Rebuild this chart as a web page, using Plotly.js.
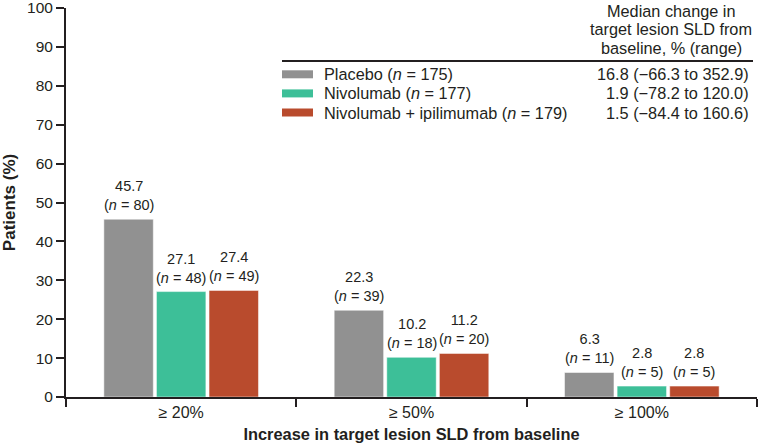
<!DOCTYPE html>
<html>
<head>
<meta charset="utf-8">
<script src="https://cdn.plot.ly/plotly-3.0.1.min.js"></script>
<style>
html,body{margin:0;padding:0;background:#fff;}
#chart{width:760px;height:448px;}
</style>
</head>
<body>
<div id="chart"></div>
<script>
var categories = ['\u2265 20%', '\u2265 50%', '\u2265 100%'];
var seriesNames = ['Placebo', 'Nivolumab', 'Nivolumab + ipilimumab'];
var seriesN = [175, 177, 179];
var seriesMedian = ['16.8 (\u221266.3 to 352.9)', '1.9 (\u221278.2 to 120.0)', '1.5 (\u221284.4 to 160.6)'];
var placeboPct = [45.7, 22.3, 6.3];
var placeboN = [80, 39, 11];
var nivoPct = [27.1, 10.2, 2.8];
var nivoN = [48, 18, 5];
var comboPct = [27.4, 11.2, 2.8];
var comboN = [49, 20, 5];
var colors = ['#919191', '#3dbf98', '#b94b2d'];
var headerLines = ['Median change in', 'target lesion SLD from', 'baseline, % (range)'];

var FONT = '"Liberation Sans", Arial, sans-serif';
var TXT = '#231f20';

var W = 760, H = 448;
var M = {l: 66, r: 3, t: 8, b: 51};
var BARGAP = 0.315, GROUPGAP = 0.06;
var plotW = W - M.l - M.r, plotH = H - M.t - M.b;
var slot = (plotW / categories.length) * (1 - BARGAP) / 3;

var pcts = [placeboPct, nivoPct, comboPct];
var ns = [placeboN, nivoN, comboN];

var traces = pcts.map(function (vals, k) {
  return {
    type: 'bar',
    name: seriesNames[k],
    x: categories,
    y: vals,
    marker: {color: colors[k], line: {color: '#ffffff', width: 0.5}},
    hoverinfo: 'none',
    showlegend: false
  };
});

var shapes = [];
var annotations = [];

// bar value labels, anchored on the data values
pcts.forEach(function (vals, k) {
  vals.forEach(function (v, i) {
    annotations.push({
      xref: 'x', yref: 'y', x: categories[i], y: v,
      xanchor: 'center', yanchor: 'bottom', showarrow: false,
      xshift: (k - 1) * slot, yshift: 4,
      text: v.toFixed(1) + '<br>(<i>n</i> = ' + ns[k][i] + ')',
      font: {family: FONT, size: 14.5, color: TXT}
    });
  });
});

// custom legend table
function py(p) { return (H - M.b - p) / plotH; }
function px(p) { return (p - M.l) / plotW; }

headerLines.forEach(function (t, i) {
  annotations.push({
    xref: 'paper', yref: 'paper', x: px(671), y: py(11 + i * 18.3),
    xanchor: 'center', yanchor: 'middle', showarrow: false,
    text: t, font: {family: FONT, size: 16.3, color: TXT}
  });
});
shapes.push({
  type: 'line', xref: 'paper', yref: 'paper',
  x0: px(282), x1: px(753), y0: py(61), y1: py(61),
  line: {color: TXT, width: 2}
});
seriesNames.forEach(function (name, i) {
  var yc = 74.3 + i * 19.1;
  shapes.push({
    type: 'rect', xref: 'paper', yref: 'paper',
    x0: px(282), x1: px(313), y0: py(yc + 4), y1: py(yc - 4),
    fillcolor: colors[i], line: {width: 0}
  });
  annotations.push({
    xref: 'paper', yref: 'paper', x: px(322), y: py(yc),
    xanchor: 'left', yanchor: 'middle', showarrow: false,
    text: name + ' (<i>n</i> = ' + seriesN[i] + ')',
    font: {family: FONT, size: 16.3, color: TXT}
  });
  annotations.push({
    xref: 'paper', yref: 'paper', x: px(751), y: py(yc),
    xanchor: 'right', yanchor: 'middle', showarrow: false,
    text: seriesMedian[i],
    font: {family: FONT, size: 16.3, color: TXT}
  });
});

var layout = {
  width: W, height: H,
  margin: M,
  paper_bgcolor: '#ffffff', plot_bgcolor: '#ffffff',
  font: {family: FONT, color: TXT},
  barmode: 'group',
  bargap: BARGAP,
  bargroupgap: GROUPGAP,
  xaxis: {
    type: 'category',
    tickson: 'boundaries',
    ticks: 'outside', ticklen: 8, tickwidth: 2, tickcolor: TXT,
    showline: true, linecolor: TXT, linewidth: 2,
    showgrid: false, zeroline: false,
    tickfont: {family: FONT, size: 16, color: TXT},
    title: {text: '<b>Increase in target lesion SLD from baseline</b>',
            font: {family: FONT, size: 16.4, color: TXT}, standoff: 8}
  },
  yaxis: {
    range: [0, 100], tickmode: 'linear', dtick: 10, tick0: 0,
    ticklabeloverflow: 'allow',
    ticks: 'outside', ticklen: 8, tickwidth: 2, tickcolor: TXT,
    showline: true, linecolor: TXT, linewidth: 2,
    showgrid: false, zeroline: false,
    tickfont: {family: FONT, size: 15.5, color: TXT},
    title: {text: '<b>Patients (%)</b>',
            font: {family: FONT, size: 17, color: TXT}, standoff: 17}
  },
  shapes: shapes,
  annotations: annotations
};

Plotly.newPlot('chart', traces, layout, {staticPlot: true, displayModeBar: false});
</script>
</body>
</html>
